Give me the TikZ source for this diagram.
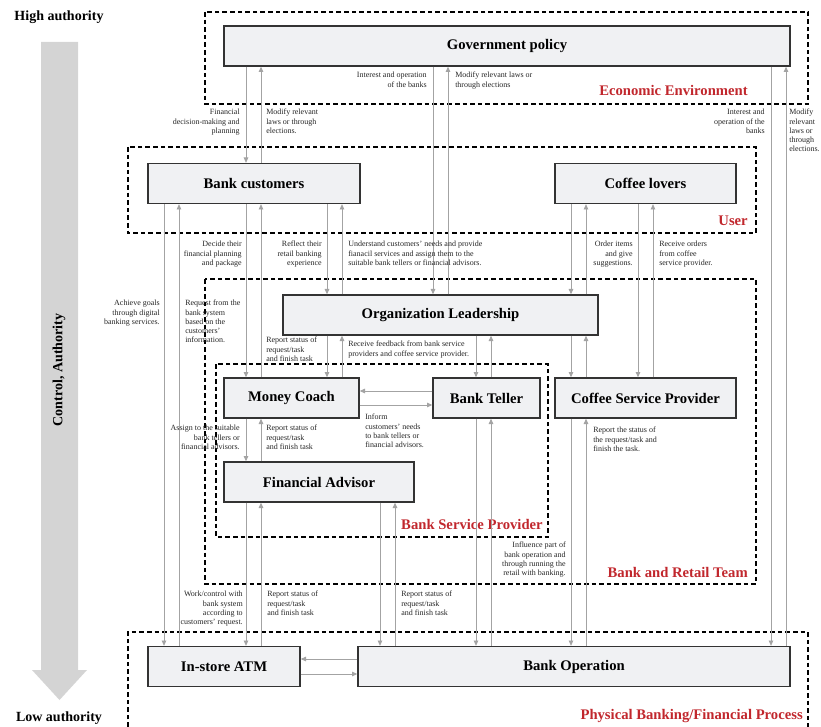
\documentclass[tikz,border=0pt]{standalone}
\usepackage{fontspec}
\setmainfont{Liberation Serif}
\usetikzlibrary{arrows.meta, positioning}
\definecolor{boxfill}{HTML}{F0F1F3}
\definecolor{linkgray}{HTML}{A3A3A3}
\definecolor{zonered}{HTML}{C1272D}
\definecolor{bigarrow}{HTML}{D4D4D4}
\tikzset{
    >={Triangle[length=4pt, width=3.4pt]}, % small filled heads
    box/.style={draw=black!80, line width=1pt, fill=boxfill, minimum height=30pt, inner sep=0pt,
        font=\fontsize{11}{13}\selectfont\bfseries}, % every actor box
    link/.style={->, draw=linkgray, line width=0.6pt}, % thin grey connectors
    zone/.style={draw=black, line width=0.9pt, dash pattern=on 3.4pt off 2.3pt}, % dashed groups
    zonelabel/.style={text=zonered, font=\fontsize{11}{13}\selectfont\bfseries, inner sep=0pt},
    note/.style={font=\fontsize{6}{6.9}\selectfont, align=left, inner sep=0pt, text=black!85},
    noteR/.style={note, align=right},
    authority/.style={font=\fontsize{10.5}{12}\selectfont\bfseries, inner sep=0pt},
}
\begin{document}
\begin{tikzpicture}[x=0.75pt, y=-0.75pt]
\useasboundingbox (0,0) rectangle (821,727);

% authority scale
\fill[bigarrow] (41,42) -- (78,42) -- (78,670) -- (87,670) -- (59.5,700) -- (32,670) -- (41,670) -- cycle;
\node[authority] (high) at (59,17) {High authority};
\node[authority] (low) at (59,718) {Low authority};
\node[authority, rotate=90] (ctrl) at (59,370) {Control, Authority};

% groups
\draw[zone] (205,12) rectangle (808,104);
\draw[zone] (128,147) rectangle (756,233);
\draw[zone] (205,279) rectangle (756,584);
\draw[zone] (216,364) rectangle (548,537);
\draw[zone] (128,727) -- (128,632) -- (808,632) -- (808,727);
\node[zonelabel, anchor=base east] (econ) at (748,96) {Economic Environment};
\node[zonelabel, anchor=base east] (user) at (748,226) {User};
\node[zonelabel, anchor=base east] (team) at (748,577) {Bank and Retail Team};
\node[zonelabel, anchor=base east] (service) at (543,529) {Bank Service Provider};
\node[zonelabel, anchor=base east] (physical) at (803,719) {Physical Banking/Financial Process};

% actors
\node[box, minimum width=424.5pt] (gov) at (507,46) {Government policy};
\node[box, minimum width=159pt] (bc) at (254,183.5) {Bank customers};
\node[box, minimum width=135.75pt] (cl) at (645.5,183.5) {Coffee lovers};
\node[box, minimum width=236.25pt] (org) at (440.5,315) {Organization Leadership};
\node[box, minimum width=101.25pt] (mc) at (291.5,398) {Money Coach};
\node[box, minimum width=80.25pt] (bt) at (486.5,398) {Bank Teller};
\node[box, minimum width=135.75pt] (csp) at (645.5,398) {Coffee Service Provider};
\node[box, minimum width=142.5pt] (fa) at (319,482) {Financial Advisor};
\node[box, minimum width=114pt] (atm) at (224,666.5) {In-store ATM};
\node[box, minimum width=324pt] (bo) at (574,666.5) {Bank Operation};

% connectors
\draw[link] (gov.south -| 246,0) -- (bc.north -| 246,0);
\draw[link] (bc.north -| 261,0) -- (gov.south -| 261,0);
\draw[link] (gov.south -| 433,0) -- (org.north -| 433,0);
\draw[link] (org.north -| 448,0) -- (gov.south -| 448,0);
\draw[link] (gov.south -| 771,0) -- (bo.north -| 771,0);
\draw[link] (bo.north -| 786,0) -- (gov.south -| 786,0);
\draw[link] (bc.south -| 164,0) -- (atm.north -| 164,0);
\draw[link] (atm.north -| 179,0) -- (bc.south -| 179,0);
\draw[link] (bc.south -| 246,0) -- (mc.north -| 246,0);
\draw[link] (mc.north -| 261,0) -- (bc.south -| 261,0);
\draw[link] (bc.south -| 327,0) -- (org.north -| 327,0);
\draw[link] (org.north -| 342,0) -- (bc.south -| 342,0);
\draw[link] (cl.south -| 571,0) -- (org.north -| 571,0);
\draw[link] (org.north -| 586,0) -- (cl.south -| 586,0);
\draw[link] (cl.south -| 638,0) -- (csp.north -| 638,0);
\draw[link] (csp.north -| 653,0) -- (cl.south -| 653,0);
\draw[link] (org.south -| 327,0) -- (mc.north -| 327,0);
\draw[link] (mc.north -| 342,0) -- (org.south -| 342,0);
\draw[link] (org.south -| 476,0) -- (bt.north -| 476,0);
\draw[link] (bt.north -| 491,0) -- (org.south -| 491,0);
\draw[link] (org.south -| 571,0) -- (csp.north -| 571,0);
\draw[link] (csp.north -| 586,0) -- (org.south -| 586,0);
\draw[link] (bt.west |- 0,391) -- (mc.east |- 0,391);
\draw[link] (mc.east |- 0,405) -- (bt.west |- 0,405);
\draw[link] (mc.south -| 246,0) -- (fa.north -| 246,0);
\draw[link] (fa.north -| 261,0) -- (mc.south -| 261,0);
\draw[link] (fa.south -| 246,0) -- (atm.north -| 246,0);
\draw[link] (atm.north -| 261,0) -- (fa.south -| 261,0);
\draw[link] (fa.south -| 380,0) -- (bo.north -| 380,0);
\draw[link] (bo.north -| 395,0) -- (fa.south -| 395,0);
\draw[link] (bt.south -| 476,0) -- (bo.north -| 476,0);
\draw[link] (bo.north -| 491,0) -- (bt.south -| 491,0);
\draw[link] (csp.south -| 571,0) -- (bo.north -| 571,0);
\draw[link] (bo.north -| 586,0) -- (csp.south -| 586,0);
\draw[link] (bo.west |- 0,659) -- (atm.east |- 0,659);
\draw[link] (atm.east |- 0,674) -- (bo.west |- 0,674);

% connector notes
\node[noteR, anchor=north east] (n1) at (427,72) {Interest and operation\\of the banks};
\node[note, anchor=north west] (n2) at (455,72) {Modify relevant laws or\\through elections};
\node[noteR, anchor=north east] (n3) at (240,109) {Financial\\decision-making and\\planning};
\node[note, anchor=north west] (n4) at (266,109) {Modify relevant\\laws or through\\elections.};
\node[noteR, anchor=north east] (n5) at (765,109) {Interest and\\operation of the\\banks};
\node[note, anchor=north west] (n6) at (789,109) {Modify\\relevant\\laws or\\through\\elections.};
\node[noteR, anchor=north east] (n7) at (242,241) {Decide their\\financial planning\\and package};
\node[noteR, anchor=north east] (n8) at (322,241) {Reflect their\\retail banking\\experience};
\node[note, anchor=north west] (n9) at (348,241) {Understand customers' needs and provide\\fianacil services and assign them to the\\suitable bank tellers or financial advisors.};
\node[noteR, anchor=north east] (n10) at (633,241) {Order items\\and give\\suggestions.};
\node[note, anchor=north west] (n11) at (659,241) {Receive orders\\from coffee\\service provider.};
\node[noteR, anchor=north east] (n12) at (160,300) {Achieve goals\\through digital\\banking services.};
\node[note, anchor=north west] (n13) at (185,300) {Request from the\\bank system\\based on the\\customers'\\information.};
\node[note, anchor=north west] (n14) at (266,337) {Report status of\\request/task\\and finish task};
\node[note, anchor=north west] (n15) at (348,341) {Receive feedback from bank service\\providers and coffee service provider.};
\node[note, anchor=north west] (n16) at (365,414) {Inform\\customers' needs\\to bank tellers or\\financial advisors.};
\node[noteR, anchor=north east] (n17) at (240,425) {Assign to the suitable\\bank tellers or\\financial advisors.};
\node[note, anchor=north west] (n18) at (266,425) {Report status of\\request/task\\and finish task};
\node[note, anchor=north west] (n19) at (593,427) {Report the status of\\the request/task and\\finish the task.};
\node[noteR, anchor=north east] (n20) at (566,542) {Influence part of\\bank operation and\\through running the\\retail with banking.};
\node[noteR, anchor=north east] (n21) at (243,591) {Work/control with\\bank system\\according to\\customers' request.};
\node[note, anchor=north west] (n22) at (267,591) {Report status of\\request/task\\and finish task};
\node[note, anchor=north west] (n23) at (401,591) {Report status of\\request/task\\and finish task};
\end{tikzpicture}
\end{document}
